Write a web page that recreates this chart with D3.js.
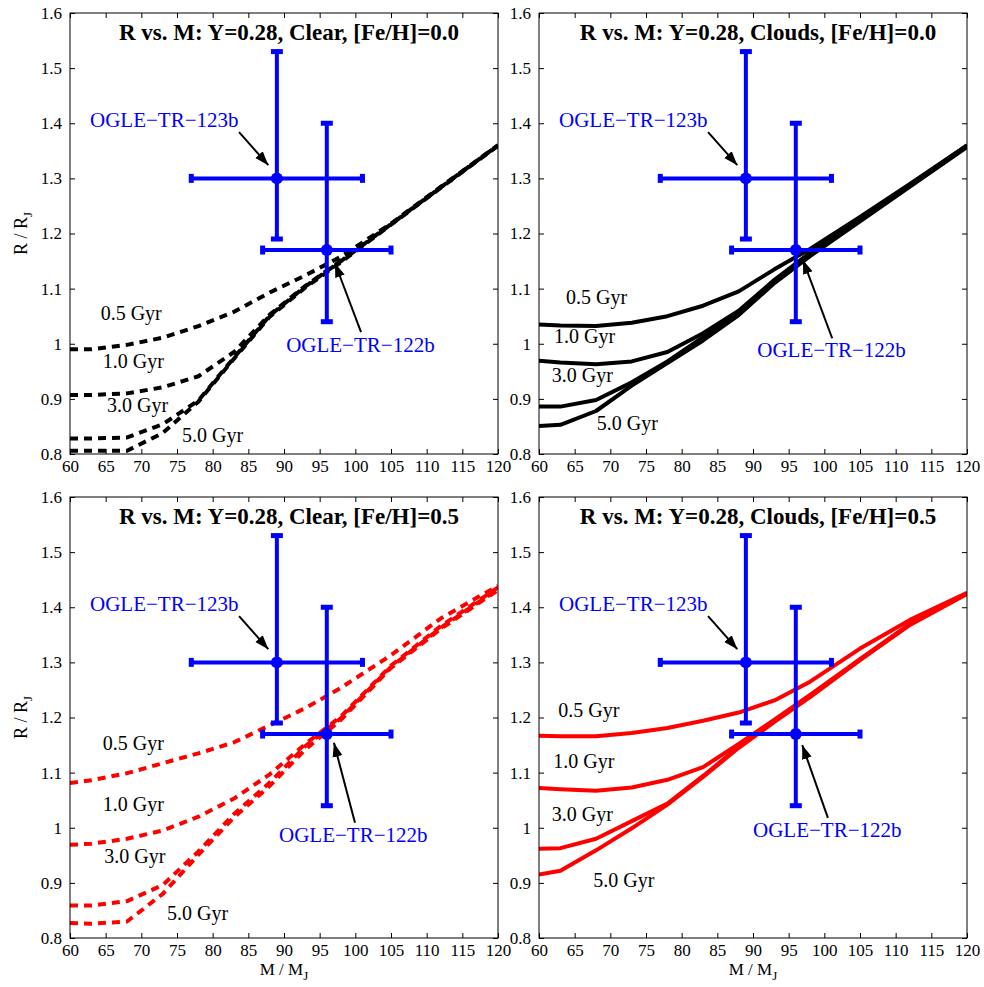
<!DOCTYPE html>
<html lang="en">
<head>
<meta charset="UTF-8" />
<title>R vs. M: Y=0.28</title>
<script src="https://d3js.org/d3.v7.min.js"></script>
<style>
  body { margin: 0; background: #fff; }
  text { font-family: "Liberation Serif", "Times New Roman", serif; }
</style>
</head>
<body>
<div id="chart"></div>
<script>
// model masses (M_J) the radius tracks are read at
const masses = [60, 63, 68, 73, 78, 83, 88, 93, 98, 105, 112, 120];
const ageLabels = ["0.5 Gyr", "1.0 Gyr", "3.0 Gyr", "5.0 Gyr"];
const xTicks = [60, 65, 70, 75, 80, 85, 90, 95, 100, 105, 110, 115, 120];
const yTicks = [0.8, 0.9, 1.0, 1.1, 1.2, 1.3, 1.4, 1.5, 1.6];

// radius (R_J), one row per age
const clearFe00 = [
  [0.990, 0.990, 0.998, 1.011, 1.032, 1.058, 1.093, 1.124, 1.158, 1.218, 1.285, 1.360],
  [0.907, 0.907, 0.910, 0.921, 0.941, 0.985, 1.053, 1.105, 1.151, 1.217, 1.284, 1.360],
  [0.828, 0.828, 0.830, 0.854, 0.897, 0.975, 1.051, 1.104, 1.150, 1.217, 1.284, 1.360],
  [0.806, 0.806, 0.806, 0.838, 0.895, 0.973, 1.049, 1.102, 1.148, 1.216, 1.283, 1.359]
];
const cloudsFe00 = [
  [1.035, 1.033, 1.032, 1.038, 1.050, 1.069, 1.095, 1.135, 1.172, 1.230, 1.290, 1.360],
  [0.969, 0.966, 0.963, 0.968, 0.985, 1.019, 1.060, 1.116, 1.165, 1.226, 1.288, 1.360],
  [0.886, 0.886, 0.898, 0.930, 0.968, 1.012, 1.056, 1.113, 1.162, 1.224, 1.286, 1.358],
  [0.851, 0.853, 0.878, 0.924, 0.965, 1.006, 1.052, 1.110, 1.159, 1.222, 1.285, 1.357]
];
const clearFe05 = [
  [1.081, 1.086, 1.099, 1.117, 1.135, 1.155, 1.186, 1.217, 1.254, 1.313, 1.380, 1.439],
  [0.969, 0.971, 0.980, 0.995, 1.020, 1.053, 1.097, 1.152, 1.202, 1.294, 1.366, 1.436],
  [0.859, 0.859, 0.867, 0.896, 0.957, 1.025, 1.082, 1.148, 1.199, 1.292, 1.363, 1.433],
  [0.827, 0.826, 0.830, 0.880, 0.951, 1.019, 1.076, 1.142, 1.196, 1.290, 1.361, 1.431]
];
const cloudsFe05 = [
  [1.167, 1.166, 1.166, 1.172, 1.181, 1.194, 1.209, 1.231, 1.265, 1.325, 1.377, 1.426],
  [1.072, 1.070, 1.067, 1.073, 1.087, 1.110, 1.152, 1.196, 1.241, 1.306, 1.370, 1.425],
  [0.962, 0.963, 0.980, 1.012, 1.044, 1.094, 1.147, 1.194, 1.239, 1.305, 1.369, 1.425],
  [0.915, 0.922, 0.959, 0.999, 1.042, 1.092, 1.145, 1.192, 1.237, 1.304, 1.368, 1.424]
];

const panelTitles = [
  "R vs. M: Y=0.28, Clear, [Fe/H]=0.0",
  "R vs. M: Y=0.28, Clouds, [Fe/H]=0.0",
  "R vs. M: Y=0.28, Clear, [Fe/H]=0.5",
  "R vs. M: Y=0.28, Clouds, [Fe/H]=0.5"
];
const panelSeries = [clearFe00, cloudsFe00, clearFe05, cloudsFe05];

// observed planets
const planetNames = ["OGLE\u2212TR\u2212123b", "OGLE\u2212TR\u2212122b"];
const planetMass = [89, 96];
const planetMassErr = [12, 9];
const planetRadius = [1.30, 1.17];
const planetRadiusLow = [1.19, 1.04];
const planetRadiusHigh = [1.53, 1.40];

// annotation placement, in data units, per panel
const ageLabelPos = [
  [[64.3, 1.043], [64.6, 0.956], [65.2, 0.876], [75.7, 0.822]],
  [[63.8, 1.072], [62.1, 1.001], [61.8, 0.931], [68.1, 0.844]],
  [[64.6, 1.141], [64.6, 1.030], [64.8, 0.936], [73.6, 0.833]],
  [[62.7, 1.201], [62.0, 1.108], [61.8, 1.012], [67.6, 0.893]]
];
const label123 = [62.8, 1.393];
const arrow123 = [[83.7, 1.384], [87.8, 1.324]];
const label122 = [[90.3, 0.985], [90.6, 0.976], [89.3, 0.974], [90.0, 0.983]];
const arrow122 = [
  [[100.8, 1.021], [97.15, 1.146]],
  [[101.1, 1.010], [97.0, 1.152]],
  [[99.95, 1.009], [97.0, 1.154]],
  [[100.5, 1.018], [96.9, 1.150]]
];

const W = 984, H = 987;
const pw = 428, ph = 441;
const lefts = [70, 539], tops = [13, 497];
const blue = "#0000ff";
const serif = "'Liberation Serif', 'Times New Roman', serif";

const svg = d3.select("#chart").append("svg")
  .attr("width", W).attr("height", H);

const defs = svg.append("defs");
defs.append("marker")
  .attr("id", "head")
  .attr("markerUnits", "userSpaceOnUse")
  .attr("markerWidth", 15).attr("markerHeight", 12)
  .attr("refX", 14).attr("refY", 6)
  .attr("orient", "auto")
  .append("path").attr("d", "M0,1 L14,6 L0,11 Z").attr("fill", "#000");

const x = d3.scaleLinear().domain([60, 120]).range([0, pw]);
const y = d3.scaleLinear().domain([0.8, 1.6]).range([ph, 0]);
const line = d3.line().x(d => x(d[0])).y(d => y(d[1]));

panelSeries.forEach((series, p) => {
  const col = p % 2, row = Math.floor(p / 2);
  const dashed = col === 0;
  const colour = row === 0 ? "#000" : "#ff0000";

  const g = svg.append("g")
    .attr("transform", `translate(${lefts[col]},${tops[row]})`);

  defs.append("clipPath").attr("id", "clip" + p)
    .append("rect").attr("width", pw).attr("height", ph);

  // axes: ticks pointing inward on all four sides
  g.append("g").attr("transform", `translate(0,${ph})`)
    .attr("font-family", serif)
    .call(d3.axisBottom(x).tickValues(xTicks).tickSizeInner(-5).tickSizeOuter(0).tickPadding(6))
    .call(a => a.select(".domain").remove())
    .call(a => a.selectAll("text").attr("font-size", 17).attr("fill", "#000"));
  g.append("g")
    .call(d3.axisTop(x).tickValues(xTicks).tickSizeInner(-5).tickSizeOuter(0).tickFormat(""))
    .call(a => a.select(".domain").remove());
  g.append("g")
    .attr("font-family", serif)
    .call(d3.axisLeft(y).tickValues(yTicks).tickSizeInner(-5).tickSizeOuter(0).tickPadding(8)
      .tickFormat(d => Math.abs(d - 1) < 1e-9 ? "1" : d.toFixed(1)))
    .call(a => a.select(".domain").remove())
    .call(a => a.selectAll("text").attr("font-size", 17).attr("fill", "#000"));
  g.append("g").attr("transform", `translate(${pw},0)`)
    .call(d3.axisRight(y).tickValues(yTicks).tickSizeInner(-5).tickSizeOuter(0).tickFormat(""))
    .call(a => a.select(".domain").remove());
  g.selectAll(".tick line").attr("stroke", "#000");

  // model tracks
  const tracks = g.append("g").attr("clip-path", `url(#clip${p})`);
  series.forEach(radii => {
    tracks.append("path")
      .attr("d", line(masses.map((m, i) => [m, radii[i]])))
      .attr("fill", "none")
      .attr("stroke", colour)
      .attr("stroke-width", 4)
      .attr("stroke-linejoin", "round")
      .attr("stroke-dasharray", dashed ? "8,6" : null);
  });

  // error bars for the two planets
  planetNames.forEach((name, k) => {
    const cx = x(planetMass[k]), cy = y(planetRadius[k]);
    const x0 = x(planetMass[k] - planetMassErr[k]), x1 = x(planetMass[k] + planetMassErr[k]);
    const y0 = y(planetRadiusLow[k]), y1 = y(planetRadiusHigh[k]);
    const eb = g.append("g").attr("fill", blue).attr("stroke", blue);
    eb.append("line").attr("x1", cx).attr("x2", cx).attr("y1", y0).attr("y2", y1).attr("stroke-width", 4);
    eb.append("line").attr("x1", x0).attr("x2", x1).attr("y1", cy).attr("y2", cy).attr("stroke-width", 4);
    [y0, y1].forEach(yy => eb.append("rect").attr("x", cx - 6).attr("y", yy - 2.5)
      .attr("width", 12).attr("height", 5).attr("stroke", "none"));
    [x0, x1].forEach(xx => eb.append("rect").attr("x", xx - 2.5).attr("y", cy - 4.5)
      .attr("width", 5).attr("height", 9).attr("stroke", "none"));
    eb.append("circle").attr("cx", cx).attr("cy", cy).attr("r", 6).attr("stroke", "none");
  });

  // box
  g.append("rect").attr("width", pw).attr("height", ph)
    .attr("fill", "none").attr("stroke", "#000").attr("stroke-width", 1);

  // arrows and planet names
  [arrow123, arrow122[p]].forEach(a => {
    g.append("line")
      .attr("x1", x(a[0][0])).attr("y1", y(a[0][1]))
      .attr("x2", x(a[1][0])).attr("y2", y(a[1][1]))
      .attr("stroke", "#000").attr("stroke-width", 2)
      .attr("marker-end", "url(#head)");
  });
  [label123, label122[p]].forEach((pos, k) => {
    g.append("text")
      .attr("x", x(pos[0])).attr("y", y(pos[1]))
      .attr("font-size", 21).attr("fill", blue)
      .text(planetNames[k]);
  });

  // age labels
  ageLabels.forEach((lab, i) => {
    g.append("text")
      .attr("x", x(ageLabelPos[p][i][0])).attr("y", y(ageLabelPos[p][i][1]))
      .attr("font-size", 20).attr("fill", "#000")
      .text(lab);
  });

  // title
  g.append("text")
    .attr("x", pw / 2 + 5).attr("y", 27)
    .attr("text-anchor", "middle")
    .attr("font-size", 23).attr("font-weight", "bold")
    .text(panelTitles[p]);

  if (col === 0) {
    const yl = g.append("text")
      .attr("transform", `translate(-43,${ph / 2}) rotate(-90)`)
      .attr("text-anchor", "middle")
      .attr("font-size", 18);
    yl.append("tspan").text("R / R");
    yl.append("tspan").attr("dy", 5).attr("font-size", 13).text("J");
  }
  if (row === 1) {
    const xl = g.append("text")
      .attr("x", pw / 2).attr("y", ph + 37)
      .attr("text-anchor", "middle")
      .attr("font-size", 17);
    xl.append("tspan").text("M / M");
    xl.append("tspan").attr("dy", 5).attr("font-size", 13).text("J");
  }
});
</script>
</body>
</html>
